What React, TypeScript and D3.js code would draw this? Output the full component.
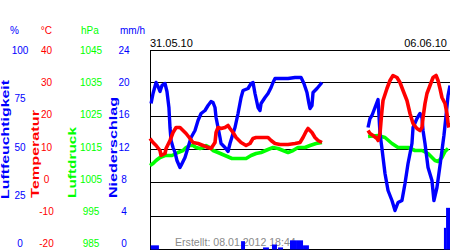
import React from "react";
import * as d3 from "d3";

const W = 450;
const H = 250;

const startLabel = "31.05.10";
const endLabel = "06.06.10";
const createdLabel = "Erstellt: 08.01.2012 18:44";

const humTicks = [0, 25, 50, 75, 100];
const tempTicks = [-20, -10, 0, 10, 20, 30, 40];
const presTicks = [985, 995, 1005, 1015, 1025, 1035, 1045];
const rainTicks = [0, 4, 8, 12, 16, 20, 24];

// hours since 31.05.10 00:00 ; null = gap
const humHours = [0.6, 1.7, 3.4, 4.5, 5.6, 6.7, 8.4, 9.5, 10.6, 11.2, 11.8, 12.9, 14, 15.1, 16.8, 17.4, 19.6, 21.3, 23, 25.2, 26.9, 28.6, 30.8, 32.5, 34.2, 35.3, 36.4, 37, 38.1, 39.2, 39.8, 42, 43.7, 44.8, 46.5, 47.6, 49.3, 51, 52.1, 54.9, 56.6, 57.7, 58.8, 60.5, 61.6, 62.2, 64.4, 66.1, 67.8, 68.9, 70, 77.3, 81.2, 84.6, 86.2, 87.9, 89, 89.6, 90.7, 91.3, 93.5, 96.3, 110, 122.1, 123.2, 124.3, 126, 127.7, 128.8, 129.9, 130.5, 131.6, 133.3, 135.5, 137.2, 138.9, 141.1, 142.8, 144.5, 145.6, 146.7, 147.3, 149.5, 151.2, 152.3, 152.9, 154, 155.7, 157.9, 159, 160.7, 162.4, 163.5, 164.6, 165.8, 166.9, 168];
const humValues = [73, 78, 83.5, 81.5, 79, 82, 83, 79, 71, 61, 54.5, 51, 48.5, 44.5, 41, 42, 46, 51, 56, 59.5, 64.5, 68, 69.5, 72, 74, 73.5, 71, 66, 61, 56, 53, 51, 49, 53, 58, 61, 68, 76, 79.5, 80.5, 83, 83.5, 78, 71, 69.5, 73, 76, 78, 81, 83.5, 85.5, 85.5, 86, 86, 83, 78.5, 73, 70.5, 72, 78.5, 80.5, 83.5, null, 61, 65.5, 67, 71, 75, 58, 50.5, 46, 38, 29.5, 24.5, 19.5, 23.5, 24.5, 33, 43, 48, 53, 61, 65.5, 68, 66, 59.5, 53, 41, 34.5, 24.5, 31, 42, 49.5, 57, 67, 77, 82];

const tempHours = [0, 1.7, 3.4, 5.6, 6.2, 8.4, 9, 11.2, 12.9, 14.6, 16.8, 18.5, 20.2, 22.4, 24.1, 26.9, 29.7, 32.5, 34.2, 36.4, 37, 38.1, 39.8, 42, 43.7, 44.8, 46.5, 48.2, 51, 53.8, 56, 57.7, 59.4, 62.2, 66.1, 67.8, 70, 72.8, 77.3, 81.2, 84, 85.7, 87.4, 88.5, 90.7, 92.4, 94.1, 96.3, 110, 122.1, 123.2, 124.9, 127.1, 127.7, 128.8, 129.4, 129.9, 130.5, 132.7, 134.4, 136.1, 138.3, 140, 141.7, 143.9, 145.6, 147.3, 149.5, 151.2, 152.3, 152.9, 154, 155.1, 156.8, 158.5, 160.2, 161.3, 162.4, 163.5, 165.2, 166.3, 166.9, 167.4];
const tempValues = [13.3, 12.1, 11.2, 9.7, 8.2, 8.8, 10.3, 12.7, 15.1, 16.6, 16.6, 15.7, 14.8, 13.3, 12.1, 11.8, 11.2, 10.6, 10.3, 12.1, 15.1, 16.6, 16.3, 16.6, 17.2, 16.3, 15.1, 13.6, 12.1, 11.2, 11.8, 13.3, 13.6, 13.6, 13.6, 12.7, 11.8, 11.5, 11.5, 11.8, 12.1, 13.6, 15.4, 16.3, 15.1, 13.6, 12.7, 12.1, null, 15.7, 14.8, 14.2, 13.3, 12.7, 14.8, 18.7, 21.7, 24.7, 28.3, 30.7, 32.2, 31.6, 30.1, 27.7, 24.7, 20.8, 17.8, 16.3, 15.7, 16.6, 19.6, 23.8, 26.8, 29.2, 31.6, 32.2, 30.7, 28.3, 25.6, 23.8, 20.8, 17.8, 16.6];

const presHours = [0, 1.7, 3.4, 5.6, 8.4, 12.3, 15.7, 18.5, 20.2, 22.4, 24.1, 25.8, 28, 29.7, 31.4, 33.6, 35.3, 38.1, 42, 45.9, 51, 53.8, 56.6, 59.4, 62.2, 66.1, 68.9, 71.7, 74.5, 77.3, 80.1, 82.9, 86.8, 89.6, 93, 96.3, 110, 122.1, 127.7, 131.6, 135.5, 138.9, 144.5, 148.4, 152.3, 155.7, 159.6, 161.3, 163.5, 165.2, 166.9];
const presValues = [1010.2, 1010.8, 1011.7, 1012.6, 1013.2, 1013.2, 1014.1, 1014.7, 1015.6, 1016.2, 1016.2, 1015.6, 1015.3, 1015.6, 1016.2, 1015.6, 1014.7, 1014.1, 1013.2, 1012.3, 1012.3, 1012.3, 1013.2, 1013.8, 1014.1, 1015, 1015.6, 1015.3, 1014.7, 1014.1, 1014.7, 1015.6, 1015.6, 1016.2, 1016.8, 1017.1, null, 1018.9, 1019.2, 1018.6, 1016.8, 1015.6, 1015.6, 1014.7, 1014.7, 1013.8, 1011.7, 1011.4, 1012.6, 1014.4, 1015.3];

const rainFrom = [0.4, 51, 63.3, 68.3, 71.7, 78.4, 82.3, 85.7, 164.6, 165.8];
const rainTo = [5, 53.2, 66.6, 71.1, 74.5, 82.3, 85.7, 89, 165.8, 168];
const rainMm = [0.5, 1.0, 0.25, 0.6, 0.25, 1.1, 1.1, 0.5, 2.6, 5.0];

const BLUE = "#0000ff";
const RED = "#ff0000";
const GREEN = "#00ff00";
const FONT = "'Liberation Sans', Arial, sans-serif";

const x = d3.scaleLinear().domain([0, 168]).range([150, 450]);
const yHum = d3.scaleLinear().domain([0, 100]).range([249.5, 49.5]);
const yTemp = d3.scaleLinear().domain([-20, 40]).range([249.5, 49.5]);
const yPres = d3.scaleLinear().domain([985, 1045]).range([249.5, 49.5]);
const yRain = d3.scaleLinear().domain([0, 24]).range([249.5, 49.5]);

// label centres are spread between these rows
const lblHum = d3.scaleLinear().domain([0, 100]).range([243.7, 50.3]);
const lblTemp = d3.scaleLinear().domain([-20, 40]).range([243.7, 50.3]);
const lblPres = d3.scaleLinear().domain([985, 1045]).range([243.7, 50.3]);
const lblRain = d3.scaleLinear().domain([0, 24]).range([243.7, 50.3]);

function makePath(hours: number[], vals: (number | null)[], y: d3.ScaleLinear<number, number>) {
  const pts = hours.map((h, i) => [h, vals[i]] as [number, number | null]);
  const line = d3
    .line<[number, number | null]>()
    .defined((d) => d[1] !== null)
    .x((d) => x(d[0]))
    .y((d) => y(d[1] as number));
  return line(pts) || "";
}

export default function App() {
  const gridRows = tempTicks.map((t) => Math.floor(yTemp(t)) + 0.5);
  const tickTexts = (
    ticks: number[],
    scale: d3.ScaleLinear<number, number>,
    cx: number,
    color: string
  ) =>
    ticks.map((t) => (
      <text key={t} x={cx} y={scale(t) + 3.6} textAnchor="middle" fill={color} fontSize={10}>
        {t}
      </text>
    ));

  const title = (label: string, bx: number, by: number, len: number, color: string) => (
    <text
      transform={`translate(${bx},${by}) rotate(-90)`}
      fill={color}
      fontSize={10.5}
      fontWeight="bold"
      textLength={len}
      lengthAdjust="spacingAndGlyphs"
    >
      {label}
    </text>
  );

  return (
    <svg width={W} height={H} style={{ position: "absolute", left: 0, top: 0, background: "#fff" }} fontFamily={FONT}>
      <rect x={0} y={0} width={W} height={H} fill="#fff" />
      {/* units */}
      <text x={10} y={34.3} fill={BLUE} fontSize={10}>%</text>
      <text x={40.7} y={34.3} fill={RED} fontSize={10}>°C</text>
      <text x={81} y={34.3} fill={GREEN} fontSize={10}>hPa</text>
      <text x={120} y={34.3} fill={BLUE} fontSize={10}>mm/h</text>
      {tickTexts(humTicks, lblHum, 20, BLUE)}
      {tickTexts(tempTicks, lblTemp, 46.5, RED)}
      {tickTexts(presTicks, lblPres, 91, GREEN)}
      {tickTexts(rainTicks, lblRain, 124, BLUE)}
      {title("Luftfeuchtigkeit", 8.7, 199, 119, BLUE)}
      {title("Temperatur", 38.8, 198, 88, RED)}
      {title("Luftdruck", 75.5, 198, 71, GREEN)}
      {title("Niederschlag", 116.5, 198, 101, BLUE)}

      {/* dates */}
      <text x={150} y={47} fontSize={11} fill="#000">{startLabel}</text>
      <text x={447} y={47} fontSize={11} fill="#000" textAnchor="end">{endLabel}</text>

      {/* grid */}
      {gridRows.map((gy, i) => (
        <line key={i} x1={150} x2={450} y1={i === gridRows.length - 1 ? 50.5 : gy} y2={i === gridRows.length - 1 ? 50.5 : gy} stroke="#000" strokeWidth={1} />
      ))}
      <line x1={150.5} x2={150.5} y1={50} y2={250} stroke="#000" strokeWidth={1} />

      {/* created text */}
      <text x={175} y={246} fontSize={10.6} fill="#8a8a8a">{createdLabel}</text>

      {/* rain */}
      {rainMm.map((v, i) => (
        <rect
          key={i}
          x={x(rainFrom[i])}
          y={yRain(v)}
          width={x(rainTo[i]) - x(rainFrom[i])}
          height={yRain(0) - yRain(v)}
          fill={BLUE}
        />
      ))}

      <path d={makePath(presHours, presValues, yPres)} fill="none" stroke={GREEN} strokeWidth={3.6} strokeLinejoin="round" />
      <path d={makePath(humHours, humValues, yHum)} fill="none" stroke={BLUE} strokeWidth={3.4} strokeLinejoin="round" />
      <path d={makePath(tempHours, tempValues, yTemp)} fill="none" stroke={RED} strokeWidth={3.6} strokeLinejoin="round" />
    </svg>
  );
}
